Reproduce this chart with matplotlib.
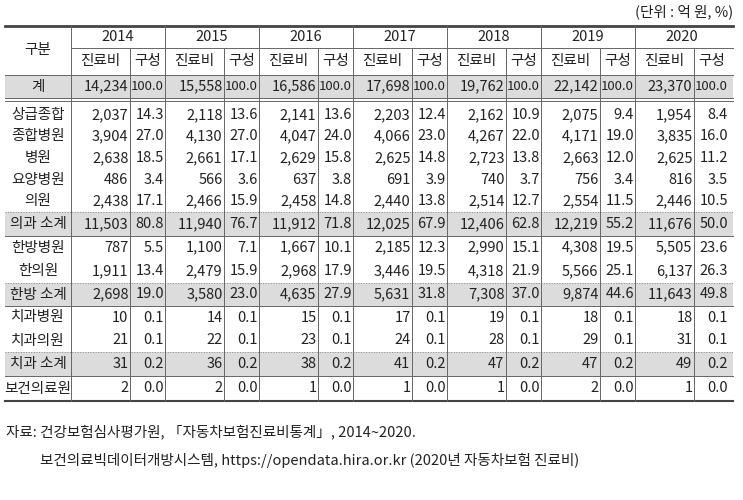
import matplotlib.pyplot as plt

plt.rcParams['font.family'] = ['Noto Sans CJK KR', 'DejaVu Sans']

years = ["2014", "2015", "2016", "2017", "2018", "2019", "2020"]
row_names = ["계", "상급종합", "종합병원", "병원", "요양병원", "의원", "의과 소계",
             "한방병원", "한의원", "한방 소계", "치과병원", "치과의원", "치과 소계", "보건의료원"]
cost = [
    ["14,234", "15,558", "16,586", "17,698", "19,762", "22,142", "23,370"],
    ["2,037", "2,118", "2,141", "2,203", "2,162", "2,075", "1,954"],
    ["3,904", "4,130", "4,047", "4,066", "4,267", "4,171", "3,835"],
    ["2,638", "2,661", "2,629", "2,625", "2,723", "2,663", "2,625"],
    ["486", "566", "637", "691", "740", "756", "816"],
    ["2,438", "2,466", "2,458", "2,440", "2,514", "2,554", "2,446"],
    ["11,503", "11,940", "11,912", "12,025", "12,406", "12,219", "11,676"],
    ["787", "1,100", "1,667", "2,185", "2,990", "4,308", "5,505"],
    ["1,911", "2,479", "2,968", "3,446", "4,318", "5,566", "6,137"],
    ["2,698", "3,580", "4,635", "5,631", "7,308", "9,874", "11,643"],
    ["10", "14", "15", "17", "19", "18", "18"],
    ["21", "22", "23", "24", "28", "29", "31"],
    ["31", "36", "38", "41", "47", "47", "49"],
    ["2", "2", "1", "1", "1", "2", "1"],
]
share = [
    ["100.0"] * 7,
    ["14.3", "13.6", "13.6", "12.4", "10.9", "9.4", "8.4"],
    ["27.0", "27.0", "24.0", "23.0", "22.0", "19.0", "16.0"],
    ["18.5", "17.1", "15.8", "14.8", "13.8", "12.0", "11.2"],
    ["3.4", "3.6", "3.8", "3.9", "3.7", "3.4", "3.5"],
    ["17.1", "15.9", "14.8", "13.8", "12.7", "11.5", "10.5"],
    ["80.8", "76.7", "71.8", "67.9", "62.8", "55.2", "50.0"],
    ["5.5", "7.1", "10.1", "12.3", "15.1", "19.5", "23.6"],
    ["13.4", "15.9", "17.9", "19.5", "21.9", "25.1", "26.3"],
    ["19.0", "23.0", "27.9", "31.8", "37.0", "44.6", "49.8"],
    ["0.1"] * 7,
    ["0.1"] * 7,
    ["0.2"] * 7,
    ["0.0"] * 7,
]
shaded = [0, 6, 9, 12]

# row boundaries in pixels
row_top = [75, 104, 125.6, 147.2, 168.8, 190.4, 212, 236, 259.5, 283, 306, 329, 352, 376]
row_bot = [98, 125.6, 147.2, 168.8, 190.4, 212, 236, 259.5, 283, 306, 329, 352, 376, 401]

fig = plt.figure(figsize=(7.43, 5.0), dpi=100)
ax = fig.add_axes([0, 0, 1, 1])
ax.set_xlim(0, 743)
ax.set_ylim(500, 0)
ax.axis('off')

L, R = 5, 733
x0, yw, cw = 71, 94, 59
fs = 10.5
col = '#222222'

for r in shaded:
    ax.fill_between([L, R], row_top[r], row_bot[r], color='#dcdcdc', lw=0)

ax.text(R, 12, "(단위 : 억 원, %)", ha='right', va='center', fontsize=fs, color=col)

# horizontal rules
ax.plot([L, R], [26, 26], color='#444444', lw=2)
ax.plot([x0, R], [48, 48], color='#666666', lw=0.7)
ax.plot([L, R], [75, 75], color='#666666', lw=0.7)
ax.plot([L, R], [98, 98], color='#666666', lw=0.7)
ax.plot([L, R], [101, 101], color='#666666', lw=0.7)
for r in [6, 9, 12]:
    ax.plot([L, R], [row_top[r], row_top[r]], color='#888888', lw=0.7, ls=':')
    ax.plot([L, R], [row_bot[r], row_bot[r]], color='#666666', lw=0.7)
ax.plot([L, R], [401, 401], color='#444444', lw=1.5)

# vertical rules
for j in range(len(years)):
    xs = x0 + j * yw
    ax.plot([xs, xs], [26, 401], color='#666666', lw=0.7)
    ax.plot([xs + cw, xs + cw], [48, 401], color='#666666', lw=0.7)

ax.text((L + x0) / 2, 50, "구분", ha='center', va='center', fontsize=fs, color=col)
for j, yr in enumerate(years):
    xs = x0 + j * yw
    ax.text(xs + yw / 2, 37, yr, ha='center', va='center', fontsize=fs, color=col)
    ax.text(xs + cw / 2, 61, "진료비", ha='center', va='center', fontsize=fs, color=col)
    ax.text(xs + (cw + yw) / 2, 61, "구성", ha='center', va='center', fontsize=fs, color=col)

for i, name in enumerate(row_names):
    yc = (row_top[i] + row_bot[i]) / 2
    ax.text((L + x0) / 2, yc, name, ha='center', va='center', fontsize=fs, color=col)
    for j in range(len(years)):
        xs = x0 + j * yw
        ax.text(xs + cw - 1.5, yc, cost[i][j], ha='right', va='center', fontsize=fs, color=col)
        sfs = 9.5 if share[i][j] == "100.0" else fs
        ax.text(xs + yw - 1, yc, share[i][j], ha='right', va='center', fontsize=sfs, color=col)

ax.text(6, 432, "자료: 건강보험심사평가원, 「자동차보험진료비통계」, 2014~2020.", ha='left', va='center', fontsize=fs, color=col)
ax.text(40, 460, "보건의료빅데이터개방시스템, https://opendata.hira.or.kr (2020년 자동차보험 진료비)",
        ha='left', va='center', fontsize=fs, color=col)

fig.savefig("out.png", dpi=100)
